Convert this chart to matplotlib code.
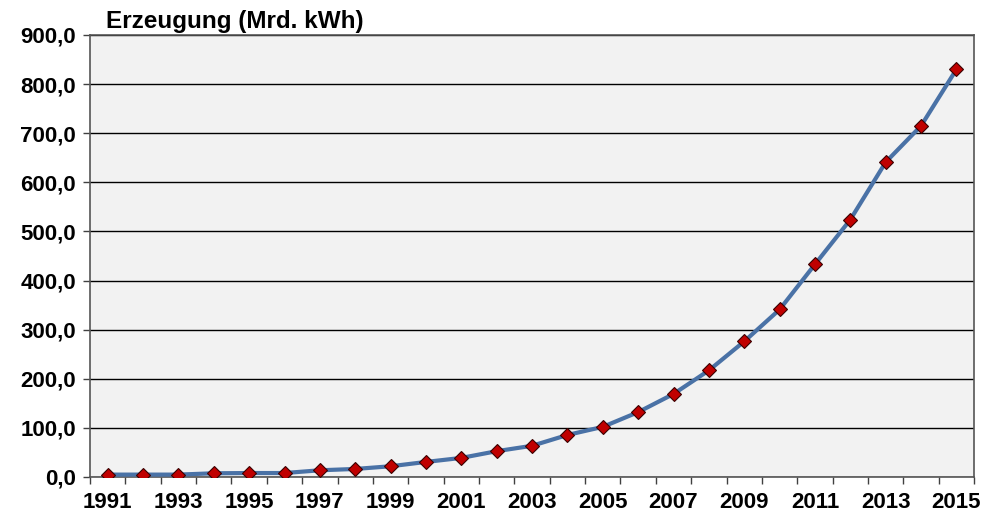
import numpy as np
import matplotlib.pyplot as plt
from matplotlib.ticker import FuncFormatter, FixedLocator

years = list(range(1991, 2016))
erzeugung = [4.8, 4.8, 4.8, 7.5, 8.0, 8.0, 13.6, 16.3, 21.8, 30.6, 38.8,
             52.5, 63.5, 85.5, 102.0, 132.0, 169.0, 217.0, 276.0, 341.0,
             433.0, 524.0, 641.0, 715.0, 830.0]
y_ticks = [0, 100, 200, 300, 400, 500, 600, 700, 800, 900]

plt.rcParams['font.family'] = ['Liberation Sans Narrow', 'Liberation Sans', 'DejaVu Sans']

fig = plt.figure(figsize=(9.95, 5.19), dpi=100)
ax = fig.add_axes([0.0905, 0.081, 0.8885, 0.8516])
ax.set_facecolor('#f2f2f2')

x = np.arange(len(years))
ax.plot(x, erzeugung, color='#4a72a6', linewidth=3, zorder=3,
        marker='D', markersize=7, markerfacecolor='#c00000',
        markeredgecolor='#3a0000', markeredgewidth=0.8)

ax.set_xlim(-0.5, len(years) - 0.5)
ax.set_ylim(0, 900)

ax.set_yticks(y_ticks)
ax.yaxis.set_major_formatter(FuncFormatter(lambda v, p: f"{v:.1f}".replace('.', ',')))
ax.grid(axis='y', color='black', linewidth=1.0)
ax.set_axisbelow(True)

# tick marks between categories, labels on odd years
ax.xaxis.set_minor_locator(FixedLocator(np.arange(-0.5, len(years), 1.0)))
ax.set_xticks(x[::2])
ax.set_xticklabels([str(y) for y in years[::2]])
ax.tick_params(axis='x', which='major', length=0, pad=11)
ax.tick_params(axis='x', which='minor', length=5, width=1, color='#404040')
ax.tick_params(axis='y', length=5, width=1, color='#404040', pad=5)

for lab in ax.get_xticklabels() + ax.get_yticklabels():
    lab.set_fontsize(16)
    lab.set_fontweight('bold')

for s in ax.spines.values():
    s.set_color('#555555')
    s.set_linewidth(1.2)

fig.text(0.107, 0.946, "Erzeugung (Mrd. kWh)", fontsize=17.5, fontweight='bold',
         family=['Liberation Sans', 'DejaVu Sans'], va='baseline')

plt.savefig("out.png", dpi=100)
